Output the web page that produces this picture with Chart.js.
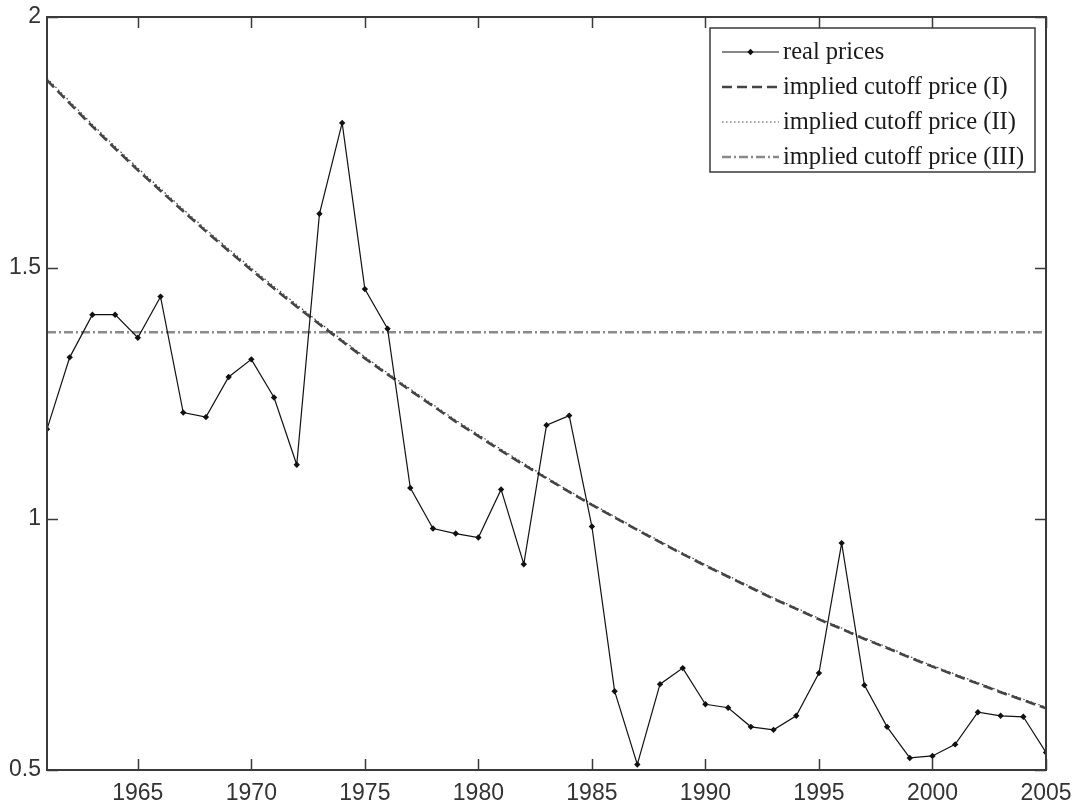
<!DOCTYPE html>
<html>
<head>
<meta charset="utf-8">
<script src="https://cdn.jsdelivr.net/npm/chart.js@4/dist/chart.umd.min.js"></script>
<style>
  html, body { margin: 0; padding: 0; background: #fff; }
  #wrap { width: 1078px; height: 810px; }
</style>
</head>
<body>
<div id="wrap"><canvas id="c" width="1078" height="810"></canvas></div>
<script>
// Years on the horizontal axis
const years = [1961, 1962, 1963, 1964, 1965, 1966, 1967, 1968, 1969, 1970,
               1971, 1972, 1973, 1974, 1975, 1976, 1977, 1978, 1979, 1980,
               1981, 1982, 1983, 1984, 1985, 1986, 1987, 1988, 1989, 1990,
               1991, 1992, 1993, 1994, 1995, 1996, 1997, 1998, 1999, 2000,
               2001, 2002, 2003, 2004, 2005];

// Observed real prices
const realPrices = [1.179, 1.322, 1.407, 1.407, 1.361, 1.443, 1.212, 1.203, 1.283, 1.318,
                    1.242, 1.108, 1.608, 1.789, 1.458, 1.379, 1.062, 0.981, 0.971, 0.963,
                    1.059, 0.910, 1.187, 1.206, 0.985, 0.657, 0.511, 0.671, 0.703, 0.631,
                    0.624, 0.586, 0.580, 0.608, 0.693, 0.952, 0.669, 0.586, 0.524, 0.528,
                    0.551, 0.615, 0.608, 0.606, 0.535];

// Implied cutoff price, specification (I)
const cutoffI = [1.874, 1.828, 1.782, 1.738, 1.695, 1.654, 1.613, 1.573, 1.534, 1.496,
                 1.459, 1.423, 1.388, 1.354, 1.320, 1.288, 1.256, 1.225, 1.194, 1.165,
                 1.136, 1.108, 1.081, 1.054, 1.028, 1.003, 0.978, 0.954, 0.930, 0.907,
                 0.885, 0.863, 0.841, 0.821, 0.800, 0.781, 0.761, 0.743, 0.724, 0.706,
                 0.689, 0.672, 0.655, 0.639, 0.623];

// Implied cutoff price, specification (II)
const cutoffII = [1.878, 1.832, 1.786, 1.742, 1.699, 1.658, 1.617, 1.577, 1.538, 1.500,
                  1.463, 1.427, 1.391, 1.357, 1.323, 1.291, 1.259, 1.228, 1.197, 1.168,
                  1.139, 1.111, 1.083, 1.056, 1.030, 1.005, 0.980, 0.956, 0.932, 0.909,
                  0.887, 0.865, 0.843, 0.823, 0.802, 0.783, 0.763, 0.745, 0.726, 0.708,
                  0.691, 0.674, 0.657, 0.641, 0.625];

// Implied cutoff price, specification (III)
const cutoffIII = [1.372, 1.372, 1.372, 1.372, 1.372, 1.372, 1.372, 1.372, 1.372, 1.372,
                   1.372, 1.372, 1.372, 1.372, 1.372, 1.372, 1.372, 1.372, 1.372, 1.372,
                   1.372, 1.372, 1.372, 1.372, 1.372, 1.372, 1.372, 1.372, 1.372, 1.372,
                   1.372, 1.372, 1.372, 1.372, 1.372, 1.372, 1.372, 1.372, 1.372, 1.372,
                   1.372, 1.372, 1.372, 1.372, 1.372];

const xTickValues = [1965, 1970, 1975, 1980, 1985, 1990, 1995, 2000, 2005];
const yTickValues = [0.5, 1, 1.5, 2];

const seriesNames = ['real prices', 'implied cutoff price (I)',
                     'implied cutoff price (II)', 'implied cutoff price (III)'];

const toPoints = vals => years.map((yr, i) => ({ x: yr, y: vals[i] }));

const axisFont = { family: '"Liberation Sans", Arial, sans-serif', size: 23 };
const frameColor = '#3a3a3a';

// Box around the plot area with short inward ticks on all four sides
const framePlugin = {
  id: 'frame',
  afterDatasetsDraw(chart) {
    const { ctx, chartArea: a, scales } = chart;
    const tl = 11;
    ctx.save();
    ctx.strokeStyle = frameColor;
    ctx.lineWidth = 1.5;
    ctx.beginPath();
    xTickValues.forEach(v => {
      const px = Math.round(scales.x.getPixelForValue(v)) + 0.5;
      ctx.moveTo(px, a.bottom); ctx.lineTo(px, a.bottom - tl);
      ctx.moveTo(px, a.top); ctx.lineTo(px, a.top + tl);
    });
    yTickValues.forEach(v => {
      const py = Math.round(scales.y.getPixelForValue(v)) + 0.5;
      ctx.moveTo(a.left, py); ctx.lineTo(a.left + tl, py);
      ctx.moveTo(a.right, py); ctx.lineTo(a.right - tl, py);
    });
    ctx.stroke();
    ctx.lineWidth = 2;
    ctx.strokeRect(a.left, a.top, a.right - a.left, a.bottom - a.top);
    ctx.restore();
  }
};

// Boxed legend in the upper right corner of the plot
const legendPlugin = {
  id: 'boxLegend',
  afterDraw(chart) {
    const { ctx, chartArea: a } = chart;
    const w = 325, h = 144;
    const left = a.right - 11 - w, top = a.top + 11;
    ctx.save();
    ctx.fillStyle = '#fff';
    ctx.fillRect(left, top, w, h);
    ctx.strokeStyle = frameColor;
    ctx.lineWidth = 1.5;
    ctx.strokeRect(left, top, w, h);
    chart.data.datasets.forEach((ds, i) => {
      const cy = top + 24 + i * 35;
      const x0 = left + 12, x1 = left + 69;
      ctx.save();
      ctx.strokeStyle = ds.borderColor;
      ctx.lineWidth = ds.borderWidth;
      ctx.setLineDash(ds.borderDash || []);
      ctx.beginPath();
      ctx.moveTo(x0, cy); ctx.lineTo(x1, cy);
      ctx.stroke();
      ctx.restore();
      if (ds.pointRadius > 0) {
        ctx.save();
        ctx.fillStyle = ds.pointBackgroundColor;
        const r = ds.pointRadius, mx = (x0 + x1) / 2;
        ctx.beginPath();
        ctx.moveTo(mx, cy - r); ctx.lineTo(mx + r, cy);
        ctx.lineTo(mx, cy + r); ctx.lineTo(mx - r, cy);
        ctx.closePath(); ctx.fill();
        ctx.restore();
      }
      ctx.fillStyle = '#1a1a1a';
      ctx.font = '24.5px "Liberation Serif", "Times New Roman", serif';
      ctx.textBaseline = 'middle';
      ctx.textAlign = 'left';
      ctx.fillText(ds.label, left + 73, cy + 1);
    });
    ctx.restore();
  }
};

new Chart(document.getElementById('c'), {
  type: 'line',
  data: {
    datasets: [
      {
        label: seriesNames[0], data: toPoints(realPrices),
        borderColor: '#111', borderWidth: 1.2,
        pointStyle: 'rectRot', pointRadius: 3.2, pointBorderWidth: 0,
        pointBackgroundColor: '#111', tension: 0
      },
      {
        label: seriesNames[1], data: toPoints(cutoffI),
        borderColor: '#444', borderWidth: 2.6, borderDash: [10, 5],
        pointRadius: 0, tension: 0
      },
      {
        label: seriesNames[2], data: toPoints(cutoffII),
        borderColor: '#444', borderWidth: 1.2, borderDash: [1.5, 2.5],
        pointRadius: 0, tension: 0
      },
      {
        label: seriesNames[3], data: toPoints(cutoffIII),
        borderColor: '#8a8a8a', borderWidth: 2.6, borderDash: [9, 3, 2, 3],
        pointRadius: 0, tension: 0
      }
    ]
  },
  options: {
    responsive: false,
    animation: false,
    events: [],
    layout: { padding: { top: 17, right: 32, left: 0, bottom: 0 } },
    plugins: { legend: { display: false }, tooltip: { enabled: false } },
    scales: {
      x: {
        type: 'linear', min: 1961, max: 2005,
        grid: { display: false, drawTicks: false, tickLength: 0 }, border: { display: false },
        ticks: { font: axisFont, color: '#333', padding: 10, maxRotation: 0, autoSkip: false,
                 callback: v => String(v) },
        afterBuildTicks: s => { s.ticks = xTickValues.map(v => ({ value: v })); },
        afterFit: s => { s.height = 40; s.paddingLeft = 0; s.paddingRight = 0; }
      },
      y: {
        type: 'linear', min: 0.5, max: 2,
        grid: { display: false, drawTicks: false, tickLength: 0 }, border: { display: false },
        ticks: { font: axisFont, color: '#333', padding: 6, callback: v => String(v) },
        afterBuildTicks: s => { s.ticks = yTickValues.map(v => ({ value: v })); },
        afterFit: s => { s.width = 47; s.paddingTop = 0; s.paddingBottom = 0; }
      }
    }
  },
  plugins: [framePlugin, legendPlugin]
});
</script>
</body>
</html>
